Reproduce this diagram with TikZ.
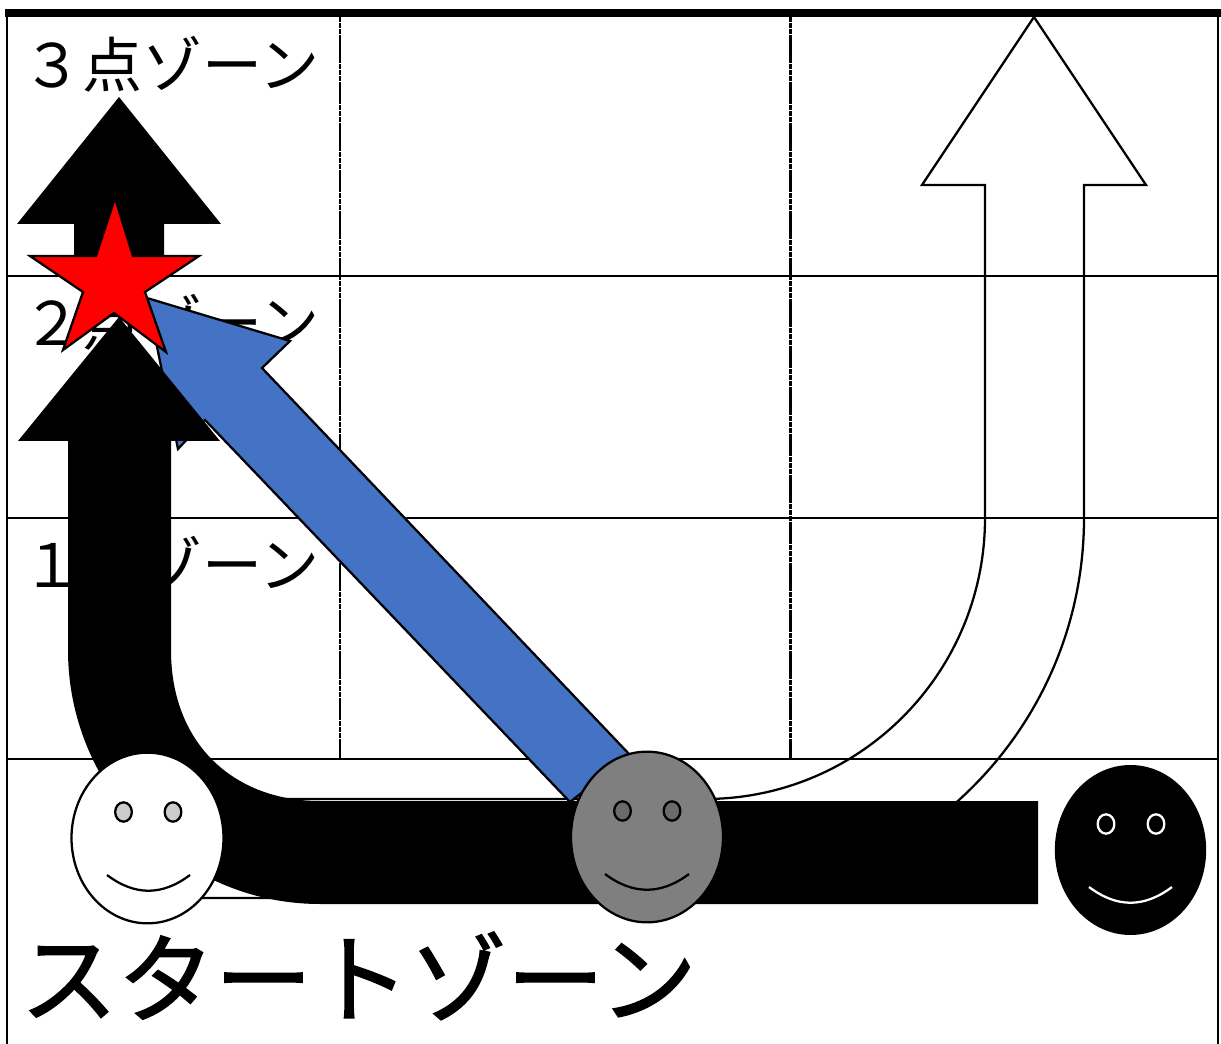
\documentclass[tikz,border=0pt]{standalone}
\usepackage{fontspec}
\newfontfamily\jpfont{Noto Sans CJK JP}
\newfontfamily\jpthick[FakeBold=1.5]{Noto Sans CJK JP}
\definecolor{bluefill}{HTML}{4472C4}
\definecolor{grayface}{HTML}{7F7F7F}
\definecolor{eyelight}{HTML}{CCCCCC}
\definecolor{eyedark}{HTML}{6A6A6A}
\usetikzlibrary{shapes.geometric}
\tikzset{
  x=0.75pt,y=-0.75pt,
  gridline/.style={draw=black,line width=1.7pt},
  gridv/.style={draw=black,line width=1.7pt,dash pattern=on 4pt off 0.4pt},
  zonetext/.style={font=\jpfont\fontsize{45pt}{47pt}\selectfont,anchor=base west,inner sep=0pt},
  bigtext/.style={font=\jpthick\fontsize{73pt}{75pt}\selectfont,anchor=base west,inner sep=0pt},
  outline/.style={draw=black,line width=1.7pt,line join=miter},
  blackshape/.style={fill=black,draw=none},
  face/.style={ellipse,draw=black,line width=1.7pt,minimum width=114pt,minimum height=128pt,inner sep=0pt},
  eye/.style={ellipse,line width=1.7pt,minimum width=12.5pt,minimum height=14.5pt,inner sep=0pt},
  mouth/.style={line width=1.7pt}
}
\begin{document}
\begin{tikzpicture}
\useasboundingbox (0,0) rectangle (1221,1044);
\fill[white] (0,0) rectangle (1221,1044);
% grid
\draw[gridline] (7,13) -- (7,1044);
\draw[gridline] (1218,13) -- (1218,1044);
\draw[gridline] (7,276) -- (1218,276);
\draw[gridline] (7,518) -- (1218,518);
\draw[gridline] (7,759) -- (1218,759);
\draw[gridv] (340,17) -- (340,759);
\draw[gridv,line width=2.2pt] (790.5,17) -- (790.5,759);
\draw[draw=black,line width=6pt] (5,13) -- (1221,13);
% texts
\node[zonetext] (zone3) at (22,88) {３点ゾーン};
\node[zonetext] (zone2) at (22,346) {２点ゾーン};
\node[zonetext] (zone1) at (22,588) {１点ゾーン};
\node[bigtext] (zonestart) at (20,1015) {スタートゾーン};
% white bent arrow
\draw[outline] (148,898) -- (705,898) .. controls (914,898) and (1084,728) .. (1084,518)
  -- (1084,185) -- (1146,185) -- (1034,17) -- (922,185) -- (985,185) -- (985,518)
  .. controls (985,673) and (860,799) .. (705,799) -- (148,799);
% blue arrow
\draw[outline,fill=bluefill] (147,298) -- (290,341) -- (262,368) -- (630,755) -- (570,802)
  -- (205,420) -- (178,449) -- cycle;
% upper black arrow
\fill[blackshape] (119,97) -- (221,224) -- (164,224) -- (164,262) -- (74,262) -- (74,224) -- (17,224) -- cycle;
% lower black bent arrow
\fill[blackshape] (119,317) -- (220,441) -- (171,441) -- (171,650)
  .. controls (171,745) and (235,801) .. (320,801) -- (1038,801) -- (1038,904) -- (320,904)
  .. controls (181,904) and (68,789) .. (68,650) -- (68,441) -- (18,441) -- cycle;
% white face
\node[face,fill=white] (facewhite) at (147.5,838) {};
\node[eye,draw=black,fill=eyelight] (ew1) at (123.5,812) {};
\node[eye,draw=black,fill=eyelight] (ew2) at (173,812) {};
\draw[mouth] (107,875) .. controls (135,896) and (162,896) .. (190,875);
% gray face
\node[face,fill=grayface] (facegray) at (647,837) {};
\node[eye,draw=black,fill=eyedark] (eg1) at (622.5,811) {};
\node[eye,draw=black,fill=eyedark] (eg2) at (672,811) {};
\draw[mouth] (605,874) .. controls (633,895) and (661,895) .. (689,874);
% black face
\node[face,draw=none,fill=black,minimum width=113.5pt,minimum height=127.5pt] (faceblack) at (1130.5,850) {};
\node[eye,draw=white,fill=black] (eb1) at (1106,824) {};
\node[eye,draw=white,fill=black] (eb2) at (1156,824) {};
\draw[mouth,draw=white] (1089,887) .. controls (1117,908) and (1144,908) .. (1172,887);
% star
\draw[outline,fill=red] (115,198) -- (133,256) -- (199,256) -- (145,292) -- (166,352)
  -- (114,313) -- (63,350) -- (83,292) -- (30,256) -- (96,256) -- cycle;
\end{tikzpicture}
\end{document}
